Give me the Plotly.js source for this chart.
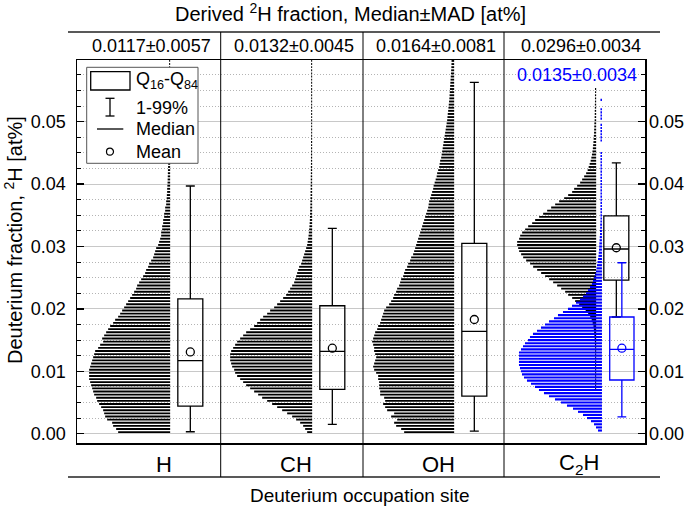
<!DOCTYPE html>
<html><head><meta charset="utf-8">
<script src="https://cdn.plot.ly/plotly-3.0.1.min.js"></script>
<style>html,body{margin:0;padding:0;background:#fff}#chart{width:685px;height:509px}</style>
</head><body><div id="chart"></div>
<script>
// ---- data ----
const sites = ['H', 'CH', 'OH', 'C<sub>2</sub>H'];
const headerLabels = ['0.0117±0.0057', '0.0132±0.0045', '0.0164±0.0081', '0.0296±0.0034'];
const blueLabel = '0.0135±0.0034';

// box statistics (black series)
const q16 = [0.0044, 0.0071, 0.0060, 0.0246];
const median = [0.0117, 0.0132, 0.0164, 0.0296];
const q84 = [0.0216, 0.0205, 0.0305, 0.0349];
const p1 = [0.0003, 0.0015, 0.0004, 0.0187];
const p99 = [0.0397, 0.0329, 0.0563, 0.0434];
const mean = [0.0131, 0.0137, 0.0183, 0.0298];

// box statistics (blue series, C2H)
const blueQ16 = [0.0086];
const blueMedian = [0.0135];
const blueQ84 = [0.0187];
const blueP1 = [0.0027];
const blueP99 = [0.0274];
const blueMean = [0.0137];

// histogram bins (0.0005 at% wide) and relative counts
const binStart = 0, binWidth = 0.0005;
const densH = [52,54,57,58,63,65,66,67,69,71, 73,74,76,77,78,79,80,81,81,81,
  81,80,79,78,77,76,75,72,70,67, 68,66,64,62,60,57,55,52,50,48,
  46,44,42,40,38,36,34,33,31,29, 27,25,24,22,21,19,17,16,15,14,
  12,11,10,9,9,8,8,7,7,6, 6,5,5,4,4,3.5,3.3,3,3,2.8,
  2.6,2.5,2.4,2.3,2.2,2.1,2,2,1.9,1.8, 1.8,1.7,1.7,1.6,1.6,1.5,1.5,1.5,1.4,1.4,
  1.4,1.3,1.3,1.3,1.2,1.2,1.2,1.2,1.1,1.1, 1.1,1.1,1,1,1,1,1,1,1,1];
const densCH = [5,7,9,12,16,20,25,30,35,40, 45,50,54,58,62,66,69,72,75,77,
  78,80,81,82,82,82,81,79,77,75, 72,69,66,62,58,55,52,49,45,42,
  38,35,32,29,26,24,22,20,18,17, 16,15,14,13,11,10,9,8,7,6,
  5,4.5,4,3.6,3.3,3,2.7,2.5,2.3,2.2, 2.1,2,1.9,1.8,1.8,1.7,1.6,1.6,1.5,1.5,
  1.4,1.4,1.4,1.3,1.3,1.3,1.2,1.2,1.2,1.2, 1.1,1.1,1.1,1.1,1,1,1,1,1,1,
  1,1,1,1,1,1,1,1,1,1, 1,1,1,1,1,1,1,1,1,1];
const densOH = [50,53,58,60,57,63,60,67,69,71, 69,70,74,74,75,75,75,76,76,78,
  80,81,80,79,78,79,80,80,81,82, 81,80,79,77,76,74,73,72,71,70,
  68,65,63,61,60,58,57,55,54,53, 51,50,49,47,46,44,43,41,40,39,
  38,37,36,35,34,33,32,31,30,29, 28,27,26,25.5,25,24,23,22,21,20.5,
  19.5,18.5,17.5,17,16,15,14.5,14,13,12.5, 12,11.5,11,10.5,10,9.5,9,8.5,8,7.5,
  7,6.7,6.4,6,5.7,5.4,5.1,4.8,4.6,4.4, 4.2,4,3.8,3.6,3.4,3.2,3,2.8,2.7,2.6];
const densC2H = [0,0,0,0,0,0,0,0,0,0, 0,0,0,0,1,1,1,1,1,1,
  1,1,1,1,1,1,1,1,1.2,1.3, 1.5,1.7,2,2.3,2.7,3.5,4.5,6,8,10.5,
  14,17,21,24,28,31,35,39,43,47, 51,55,59,63,66,70,73,75,77,78,
  79,79,77,76,74,71,68,64,61,57, 53,49,45,41,37,32,28,24,22,19,
  16,14,12,10,8.5,7.5,6.5,5.5,4.8,4.2, 3.7,3.3,3,2.7,2.5,2.3,2.1,2,1.9,1.8,
  1.5,1.5,1.4,1.4,1.3,1.3,1.2,1.2,1.2,1.1, 1.1,0,0,0,0,0,0,0,0,0];
const densC2HBlue = [4,6,8,11,15,19,24,29,35,41, 47,53,58,63,67,71,75,78,80,81,
  82,83,83,83,83,83,81,79,77,74, 72,69,65,61,57,53,48,44,39,34,
  30,26,22,19,16,14,12,10,9,8, 7,6,5.5,5,4.5,4,3.5,3.2,3,2.8,
  2.6,2.4,2.2,2,2,1.8,1.8,1.6,1.5,1.5, 1.5,1.5,1.5,1.5,1.5,1.5,1.5,1.5,1.5,1.5,
  1.5,1.5,1.5,1.5,1.5,1.5,1.5,1.5,1.5,1.5, 0,0,0,1.5,1.5,1.5,1.5,1.5,1.5,0,
  1.5,1.5,1.5,1.5,0,0,1.5,0,0,0, 0,0,0,0,0,0,0,0,0,0];

// ---- styling / geometry ----
const FONT = 'Liberation Sans, Arial, sans-serif';
const BLUE = '#0000ff';
const pxPerUnit = 142;         // one site panel = 1 x unit
const violinEdge = 0.656;      // right edge of half-violin inside panel
const boxPos = 0.798;          // box centre inside panel
const blueViolinEdge = 0.697, blueBoxPos = 0.837;

function violin(dens, edge, yShift, color, thick) {
  return {
    type: 'bar', orientation: 'h',
    y: dens.map((_, k) => binStart + binWidth * (k + 0.5) + yShift),
    x: dens.map(v => -v / pxPerUnit),
    base: edge, width: binWidth * thick,
    marker: {color: color, line: {width: 0}},
    hoverinfo: 'skip', showlegend: false
  };
}
function box(pos, a, m, b, lo, hi, color, w) {
  return {
    type: 'box', x: [pos], q1: [a], median: [m], q3: [b], lowerfence: [lo], upperfence: [hi],
    width: w, whiskerwidth: 0.36, boxpoints: false,
    line: {color: color, width: 1.3}, fillcolor: 'rgba(0,0,0,0)',
    hoverinfo: 'skip', showlegend: false
  };
}

const dens = [densH, densCH, densOH, densC2H];
const traces = [];
dens.forEach((d, i) => traces.push(violin(d, i + violinEdge, 0, '#000', 0.6)));
traces.push(violin(densC2HBlue, 3 + blueViolinEdge, binWidth * 0.5, BLUE, 0.68));
for (let i = 0; i < 4; i++) traces.push(box(i + boxPos, q16[i], median[i], q84[i], p1[i], p99[i], '#000', 0.176));
traces.push(box(3 + blueBoxPos, blueQ16[0], blueMedian[0], blueQ84[0], blueP1[0], blueP99[0], BLUE, 0.171));
traces.push({type: 'scatter', mode: 'markers', x: mean.map((_, i) => i + boxPos), y: mean,
  marker: {symbol: 'circle-open', size: 8, color: '#000', line: {width: 1.3}}, hoverinfo: 'skip', showlegend: false});
traces.push({type: 'scatter', mode: 'markers', x: [3 + blueBoxPos], y: blueMean,
  marker: {symbol: 'circle-open', size: 8, color: BLUE, line: {width: 1.3}}, hoverinfo: 'skip', showlegend: false});
traces.push({type: 'scatter', mode: 'markers', x: [0], y: [0], yaxis: 'y2',
  marker: {opacity: 0}, hoverinfo: 'skip', showlegend: false});

const yRange = [-0.0015, 0.0599];
const yCommon = {
  range: yRange, tick0: 0, dtick: 0.01, tickformat: '.2f',
  ticks: 'inside', ticklen: 7, tickwidth: 1.3, tickcolor: '#000',
  tickfont: {family: FONT, size: 18, color: '#000'},
  zeroline: false, fixedrange: true
};
const layout = {
  width: 685, height: 509,
  margin: {l: 77, r: 40, t: 60, b: 66},
  paper_bgcolor: '#fff', plot_bgcolor: '#fff',
  showlegend: false, hovermode: false, barmode: 'overlay', boxmode: 'overlay',
  font: {family: FONT, size: 18, color: '#000'},
  xaxis: {range: [0, 4], showgrid: false, zeroline: false, showticklabels: false, ticks: '',
    showline: true, mirror: true, linecolor: '#000', linewidth: 1.5, fixedrange: true},
  yaxis: Object.assign({}, yCommon, {
    ticklabelstandoff: 6,
    showgrid: true, gridcolor: '#c8c8c8', gridwidth: 1,
    showline: true, mirror: true, linecolor: '#000', linewidth: 1.5,
    minor: {tick0: 0, dtick: 0.0025, ticks: 'inside', ticklen: 4, tickwidth: 1, tickcolor: '#000',
      showgrid: true, gridcolor: '#b4b4b4', griddash: '1px,2px', gridwidth: 1}
  }),
  yaxis2: Object.assign({}, yCommon, {
    ticklabelstandoff: 3,
    overlaying: 'y', side: 'right', showgrid: false, showline: false,
    minor: {tick0: 0, dtick: 0.0025, ticks: 'inside', ticklen: 4, tickwidth: 1, tickcolor: '#000', showgrid: false}
  }),
  shapes: [],
  annotations: []
};

// table lines (header row, bottom row, panel dividers)
const P = (x) => (x - 77) / 568, Q = (y) => (443 - y) / 383;
const line = (x0, y0, x1, y1, w, c) => ({type: 'line', xref: 'paper', yref: 'paper', x0, y0, x1, y1,
  line: {color: c || '#000', width: w}, layer: 'above'});
layout.shapes.push(line(P(68), Q(32), P(660), Q(32), 1.5, '#222'));
layout.shapes.push(line(P(68), Q(477), P(660), Q(477), 1.5, '#222'));
[220.7, 363, 504].forEach(x => layout.shapes.push(line(P(x), Q(477), P(x), Q(32), 1, '#000')));

// legend (drawn)
layout.shapes.push({type: 'rect', xref: 'paper', yref: 'paper', x0: P(86.7), x1: P(198), y0: Q(163.3), y1: Q(67.3),
  line: {color: '#555', width: 1}, fillcolor: '#fff', layer: 'above'});
layout.shapes.push({type: 'rect', xref: 'paper', yref: 'paper', x0: P(90.7), x1: P(130), y0: Q(90), y1: Q(71.7),
  line: {color: '#000', width: 1.3}, fillcolor: 'rgba(0,0,0,0)', layer: 'above'});
layout.shapes.push(line(P(110), Q(116), P(110), Q(98.3), 1.3));
layout.shapes.push(line(P(105.5), Q(116), P(114.5), Q(116), 1.3));
layout.shapes.push(line(P(105.5), Q(98.3), P(114.5), Q(98.3), 1.3));
layout.shapes.push(line(P(97), Q(129), P(123.3), Q(129), 1.3));
layout.shapes.push({type: 'circle', xref: 'paper', yref: 'paper', x0: P(106.5), x1: P(113.5), y0: Q(155.2), y1: Q(148.2),
  line: {color: '#000', width: 1.2}, fillcolor: 'rgba(0,0,0,0)', layer: 'above'});

const ann = (text, x, y, size, extra) => Object.assign({text, x, y, xref: 'paper', yref: 'paper',
  showarrow: false, xanchor: 'center', yanchor: 'middle', font: {family: FONT, size, color: '#000'}}, extra || {});
const legendText = ['Q<sub>16</sub>-Q<sub>84</sub>', '1-99%', 'Median', 'Mean'];
const legendY = [80, 107.5, 129, 151.7];
legendText.forEach((t, i) => layout.annotations.push(ann(t, P(134), Q(legendY[i]), 18, {xanchor: 'left'})));

layout.annotations.push(ann('Derived <sup>2</sup>H fraction, Median±MAD [at%]', P(350), Q(13), 20));
const headerX = [151, 294, 436, 581];
headerLabels.forEach((t, i) => layout.annotations.push(ann(t, P(headerX[i]), Q(46), 18)));
const catX = [164, 296, 438, 579];
sites.forEach((t, i) => layout.annotations.push(ann(t, P(catX[i]), Q(464), 22)));
layout.annotations.push(ann(blueLabel, P(576.7), Q(75), 18, {font: {family: FONT, size: 18, color: BLUE}}));
layout.annotations.push(ann('Deuterium occupation site', P(360), Q(496), 19));
layout.annotations.push(ann('Deuterium fraction, <sup>2</sup>H [at%]', P(13), Q(240), 20, {textangle: -90}));

Plotly.newPlot('chart', traces, layout, {staticPlot: true, displayModeBar: false});
</script>
</body></html>
